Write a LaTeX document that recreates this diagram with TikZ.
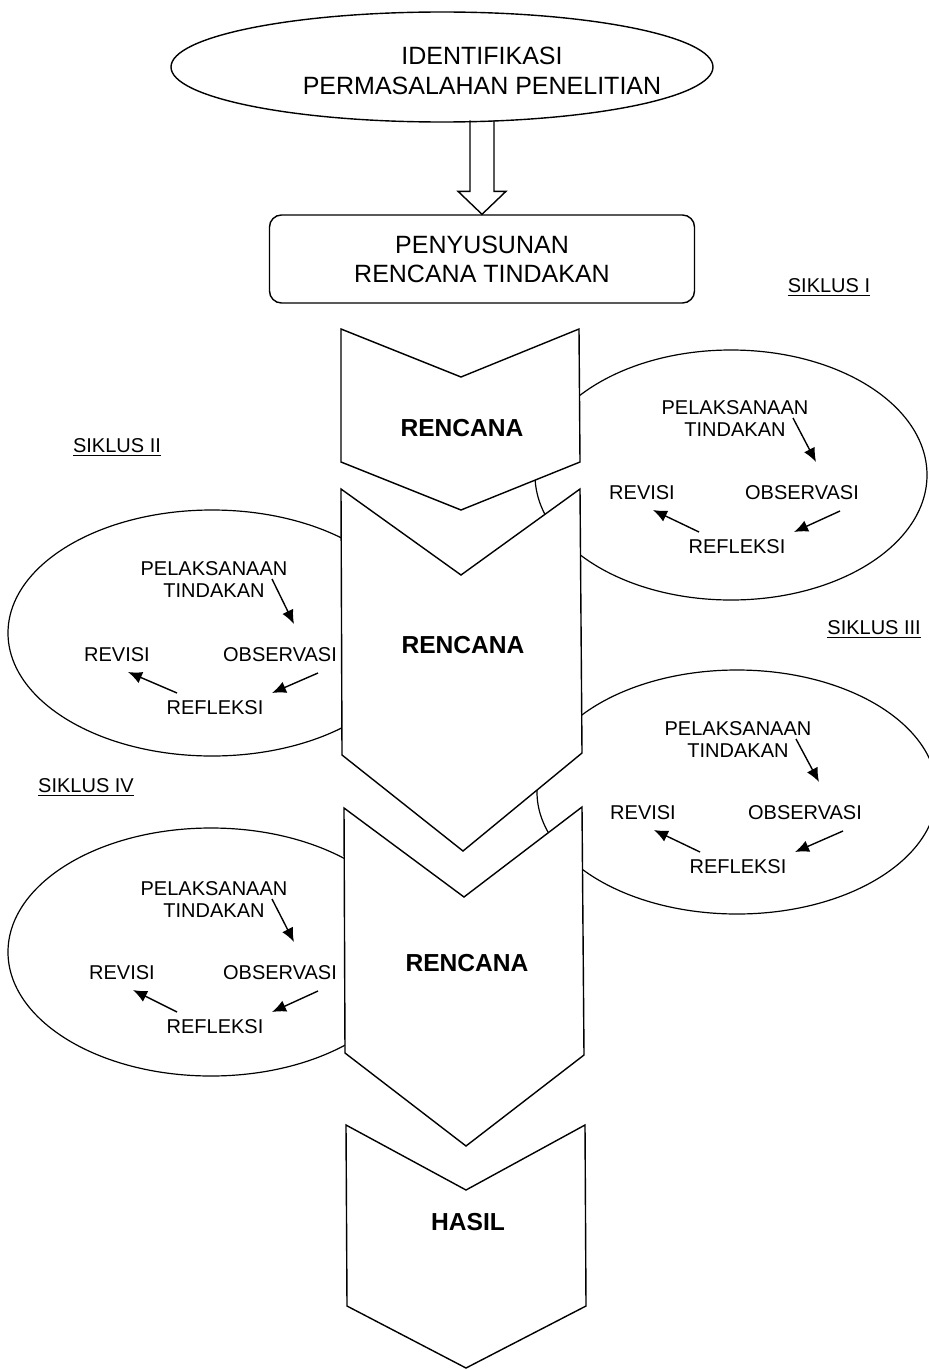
\documentclass[tikz,border=0pt]{standalone}
\usepackage{fontspec}
\setmainfont{Liberation Sans}
\usetikzlibrary{shapes,arrows.meta,positioning,calc}

\tikzset{
  chevron/.style={draw, fill=white, line width=0.7pt},
  ring/.style={draw, fill=white, line width=0.6pt},
  item/.style={font=\fontsize{10}{11}\selectfont, align=center, inner sep=0pt},
  plan/.style={font=\fontsize{12.3}{14}\bfseries\selectfont, inner sep=0pt},
  cyclabel/.style={font=\fontsize{10}{12}\selectfont, inner sep=0pt},
  arr/.style={-{Latex[length=7pt,width=6pt]}, line width=0.7pt}
}

\begin{document}
\begin{tikzpicture}[x=0.5pt,y=-0.5pt]
		\useasboundingbox (0,0) rectangle (928,1370);
		% top part
		\node[draw, ellipse, minimum width=271pt, minimum height=55pt, inner sep=0pt, line width=0.7pt] (idn) at (442,67) {};
		\node[font=\fontsize{12.5}{15}\selectfont, align=center, inner sep=0pt] (idntxt) at (482,71) {IDENTIFIKASI\\PERMASALAHAN PENELITIAN};
		\node[draw, rounded corners=6pt, minimum width=212.5pt, minimum height=44pt, line width=0.7pt, align=center, font=\fontsize{12.5}{14.5}\selectfont] (rtd) at (482,259) {PENYUSUNAN\\RENCANA TINDAKAN};
		\draw[line width=0.7pt] ($(rtd.north)+(-12,-94)$) -- ++(0,71) -- ++(-12,0) -- (rtd.north) -- ++(24,-23) -- ++(-12,0) -- ++(0,-71);
		% siklus I
		\draw[ring] (731,475) ellipse [x radius=196, y radius=125];
		\node[item] (pt1) at (735,419) {PELAKSANAAN\\TINDAKAN};
		\node[item] (ob1) at (802,493) {OBSERVASI};
		\node[item] (rv1) at (642,493) {REVISI};
		\node[item] (rf1) at (737,547) {REFLEKSI};
		\draw[arr] ([shift={(58,-1)}]pt1.center) -- ([shift={(14,-31)}]ob1.center);
		\draw[arr] ([shift={(38,18)}]ob1.center) -- ([shift={(57,-15)}]rf1.center);
		\draw[arr] ([shift={(-38,-15)}]rf1.center) -- ([shift={(11,17)}]rv1.center);
		\node[cyclabel, anchor=base] (sk1) at (829,292) {\underline{SIKLUS I}};
		% siklus II
		\draw[ring] (212,633) ellipse [x radius=204, y radius=123];
		\node[item] (pt2) at (214,580) {PELAKSANAAN\\TINDAKAN};
		\node[item] (ob2) at (280,655) {OBSERVASI};
		\node[item] (rv2) at (117,655) {REVISI};
		\node[item] (rf2) at (215,708) {REFLEKSI};
		\draw[arr] ([shift={(58,-1)}]pt2.center) -- ([shift={(14,-31)}]ob2.center);
		\draw[arr] ([shift={(38,18)}]ob2.center) -- ([shift={(57,-15)}]rf2.center);
		\draw[arr] ([shift={(-38,-15)}]rf2.center) -- ([shift={(11,17)}]rv2.center);
		\node[cyclabel, anchor=base] (sk2) at (117,452) {\underline{SIKLUS II}};
		% siklus III
		\draw[ring] (737,792) ellipse [x radius=200, y radius=122];
		\node[item] (pt3) at (738,740) {PELAKSANAAN\\TINDAKAN};
		\node[item] (ob3) at (805,813) {OBSERVASI};
		\node[item] (rv3) at (643,813) {REVISI};
		\node[item] (rf3) at (738,867) {REFLEKSI};
		\draw[arr] ([shift={(58,-1)}]pt3.center) -- ([shift={(14,-31)}]ob3.center);
		\draw[arr] ([shift={(38,18)}]ob3.center) -- ([shift={(57,-15)}]rf3.center);
		\draw[arr] ([shift={(-38,-15)}]rf3.center) -- ([shift={(11,17)}]rv3.center);
		\node[cyclabel, anchor=base west] (sk3) at (827,634) {\underline{SIKLUS III}};
		% siklus IV
		\draw[ring] (211,952) ellipse [x radius=203, y radius=124];
		\node[item] (pt4) at (214,900) {PELAKSANAAN\\TINDAKAN};
		\node[item] (ob4) at (280,973) {OBSERVASI};
		\node[item] (rv4) at (122,973) {REVISI};
		\node[item] (rf4) at (215,1027) {REFLEKSI};
		\draw[arr] ([shift={(58,-1)}]pt4.center) -- ([shift={(14,-31)}]ob4.center);
		\draw[arr] ([shift={(38,18)}]ob4.center) -- ([shift={(57,-15)}]rf4.center);
		\draw[arr] ([shift={(-38,-15)}]rf4.center) -- ([shift={(11,17)}]rv4.center);
		\node[cyclabel, anchor=base] (sk4) at (86,792) {\underline{SIKLUS IV}};
		% chevrons
		\draw[chevron] (341,329) -- (461,377) -- (579,329) -- (580,462) -- (461,510) -- (341,462) -- cycle;
		\node[plan] (ren1) at (462,428) {RENCANA};
		\draw[chevron] (341,489) -- (461,575) -- (580,489) -- (582,753) -- (463,851) -- (342,755) -- cycle;
		\node[plan] (ren2) at (463,645) {RENCANA};
		\draw[chevron] (344,808) -- (464,897) -- (582,807) -- (584,1055) -- (466,1146) -- (345,1053) -- cycle;
		\node[plan] (ren3) at (467,963) {RENCANA};
		\draw[chevron] (346,1125) -- (466,1190) -- (585,1125) -- (586,1306) -- (466,1368) -- (347,1306) -- cycle;
		\node[plan] (hsl) at (468,1222) {HASIL};
		\end{tikzpicture}
\end{document}
